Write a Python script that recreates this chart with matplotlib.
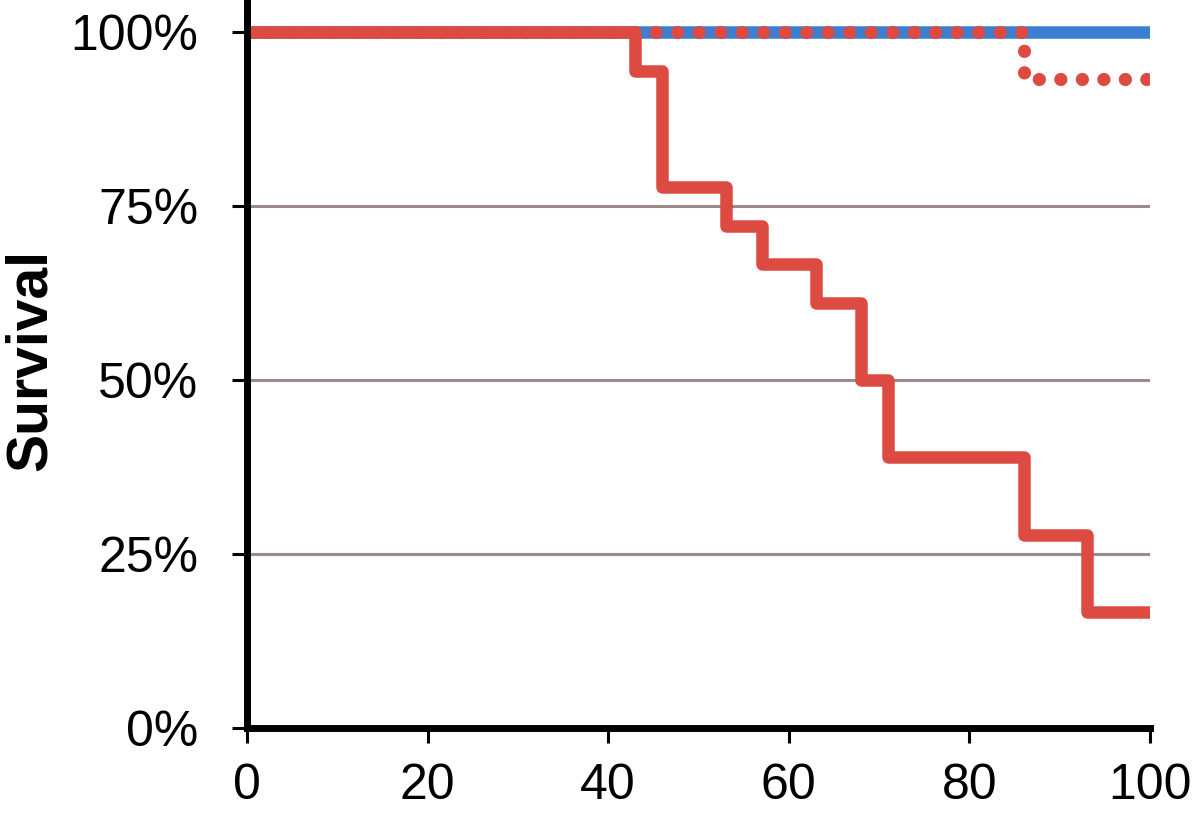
import matplotlib.pyplot as plt
from matplotlib.ticker import PercentFormatter

plt.rcParams['font.family'] = ['Liberation Sans', 'DejaVu Sans']

# 생존 곡선 데이터 (계단형)
red_x = [0, 43, 46, 53, 57, 63, 68, 71, 86, 93, 100]
red_y = [100, 94.4, 77.8, 72.2, 66.7, 61.1, 50.0, 38.9, 27.8, 16.7, 16.7]

dot_x = [0, 86, 100]
dot_y = [100, 93.3, 93.3]

blue_x = [0, 100]
blue_y = [100, 100]

red = '#dc4a41'
blue = '#3b7fd2'

fig = plt.figure(figsize=(12, 8.16), dpi=100)
ax = fig.add_axes([0.2058, 0.1078, 0.9583 - 0.2058, 0.8922])

# 그리드
for g in [25, 50, 75]:
    ax.axhline(g, color='#9a8a8a', linewidth=2.2, zorder=1)

ax.plot(blue_x, blue_y, color=blue, linewidth=9, solid_capstyle='butt', zorder=2)
ax.plot(dot_x, dot_y, color=red, linewidth=9.5, drawstyle='steps-post',
        linestyle=(0, (0.01, 1.62)), dash_capstyle='round', zorder=3)
ax.plot(red_x, red_y, color=red, linewidth=9, drawstyle='steps-post',
        solid_joinstyle='round', solid_capstyle='butt', zorder=4)

ax.set_xlim(0, 100)
ax.set_ylim(0, 104.6)
ax.set_xticks([0, 20, 40, 60, 80, 100])
ax.set_yticks([0, 25, 50, 75, 100])
ax.yaxis.set_major_formatter(PercentFormatter(decimals=0))

for s in ['top', 'right']:
    ax.spines[s].set_visible(False)
for s in ['left', 'bottom']:
    ax.spines[s].set_linewidth(5)
    ax.spines[s].set_zorder(5)

ax.tick_params(axis='both', direction='out', length=11, width=2.2, labelsize=36, color='black')
ax.tick_params(axis='x', pad=14)
ax.tick_params(axis='y', pad=24)

ax.set_ylabel('Survival', fontsize=41, fontweight='bold')
ax.yaxis.set_label_coords(-0.209, 0.505)

fig.savefig('out.png', dpi=100)
